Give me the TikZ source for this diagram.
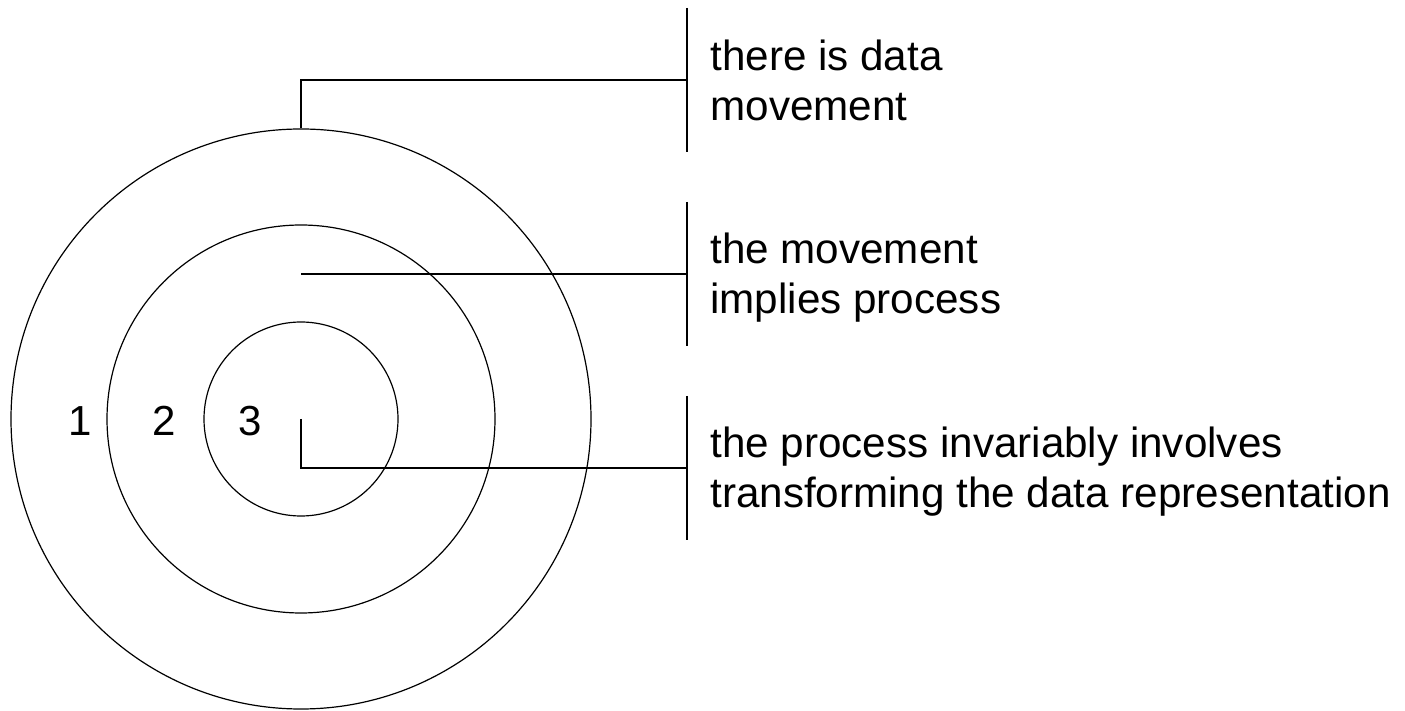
\documentclass[tikz,border=0pt]{standalone}
\usepackage{fontspec}
\setmainfont{Liberation Sans}
\usetikzlibrary{positioning}

\tikzset{
  ring/.style={draw,circle,inner sep=0pt,line width=0.6pt},
  level/.style={inner sep=0pt,font=\fontsize{21}{25}\selectfont},
  note/.style={inner sep=0pt,align=left,anchor=west,font=\fontsize{21.1}{25}\selectfont},
  bar/.style={line width=0.6pt},
  lead/.style={line width=0.6pt}
}

\begin{document}
\begin{tikzpicture}[x=0.5pt,y=-0.5pt]
  \useasboundingbox (0,0) rectangle (1405,711);
  % the three rings
  \node[ring,minimum size=290pt] (outer)  at (301,419) {};
  \node[ring,minimum size=194pt] (middle) at (301,419) {};
  \node[ring,minimum size=97pt]  (inner)  at (301,419) {};
  \node[level] (one)   at (80,421)  {1};
  \node[level] (two)   at (164,421) {2};
  \node[level] (three) at (250,421) {3};
  % bars on the right
  \coordinate (bar1) at (687,80);
  \coordinate (bar2) at (687,274);
  \coordinate (bar3) at (687,468);
  \foreach \b in {bar1,bar2,bar3}
     \draw[bar] (\b) ++(0,-72) -- ++(0,144);
  \node[note] (data)      at (710,80)  {there is data\\movement};
  \node[note] (process)   at (710,278) {the movement\\implies process};
  \node[note] (transform) at (710,472) {the process invariably involves\\transforming the data representation};
  % leaders
  \coordinate (start2) at (301,274);
  \draw[lead] (outer.north) |- (bar1);
  \draw[lead] (start2) -- (bar2);
  \draw[lead] (inner.center) |- (bar3);
\end{tikzpicture}
\end{document}
